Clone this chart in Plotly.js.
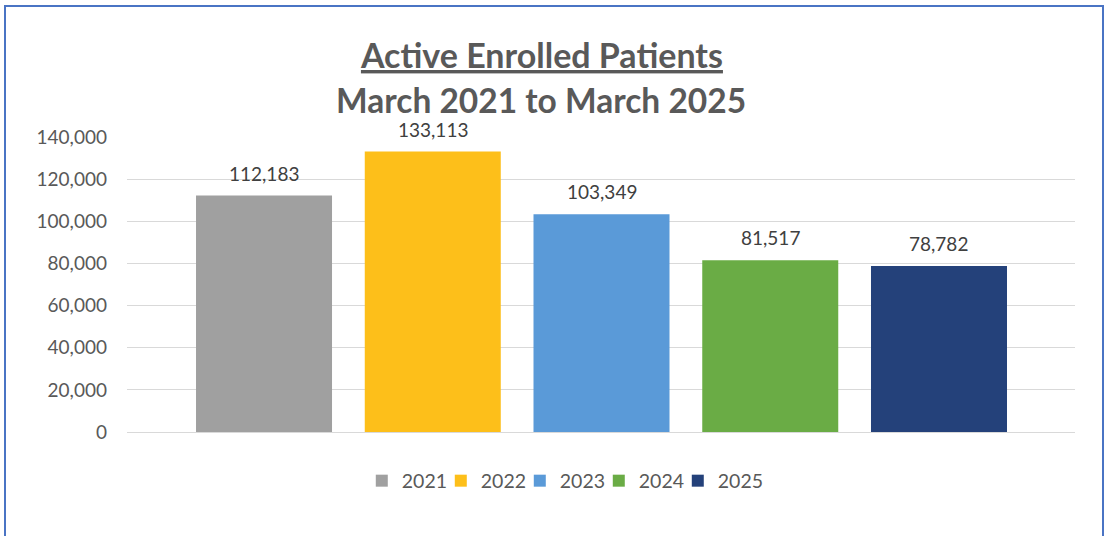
<!DOCTYPE html>
<html>
<head>
<meta charset="utf-8">
<script src="https://cdn.plot.ly/plotly-3.0.1.min.js"></script>
<style>
  html, body { margin: 0; padding: 0; background: #ffffff; }
  #wrap { position: relative; width: 1106px; height: 536px; overflow: hidden; }
  #chart { width: 1106px; height: 536px; }
  #frame { position: absolute; left: 4px; top: 5px; width: 1096px; height: 560px;
           border: 2px solid #4a74c4; pointer-events: none; }
</style>
</head>
<body>
<div id="wrap">
  <div id="chart"></div>
  <div id="frame"></div>
</div>
<script>
// ---- data ----
const years = ["2021", "2022", "2023", "2024", "2025"];
const patients = [112183, 133113, 103349, 81517, 78782];
const barColors = ["#a0a0a0", "#fdbf1a", "#5a9ad8", "#6aac45", "#24417a"];
const yTickVals = [0, 20000, 40000, 60000, 80000, 100000, 120000, 140000];
const titleLine1 = "Active Enrolled Patients";
const titleLine2 = "March 2021 to March 2025";

const FONT = "Lato, 'Noto Sans', sans-serif";

const traces = years.map((yr, i) => ({
  type: "bar",
  name: yr,
  x: [yr],
  y: [patients[i]],
  marker: { color: barColors[i] },
  hoverinfo: "x+y"
}));

const labelAnnotations = years.map((yr, i) => ({
  x: i, y: patients[i], xref: "x", yref: "y",
  text: patients[i].toLocaleString("en-US"),
  showarrow: false, yanchor: "bottom", yshift: 9,
  font: { family: FONT, size: 19, color: "#404040" }
}));

const layout = {
  width: 1106, height: 536,
  paper_bgcolor: "#ffffff", plot_bgcolor: "#ffffff",
  margin: { l: 127, r: 31, t: 137, b: 104 },
  barmode: "overlay",
  bargap: 0.194,
  font: { family: FONT, color: "#595959" },
  title: {
    text: "<b><span style='text-decoration:underline'>" + titleLine1 + "</span></b>",
    font: { family: FONT, size: 34, color: "#595959" },
    x: 0.49, xanchor: "center",
    y: 1 - 68/536, yref: "container", yanchor: "bottom"
  },
  annotations: [
    { xref: "paper", yref: "paper", x: 0.437, y: 1 + (137 - 122)/295, yanchor: "bottom", xanchor: "center",
      showarrow: false, text: "<b>" + titleLine2 + "</b>",
      font: { family: FONT, size: 33.5, color: "#595959" } }
  ].concat(labelAnnotations),
  xaxis: {
    type: "category",
    range: [-0.812, 4.806],
    showticklabels: false, showgrid: false, zeroline: false, showline: false,
    fixedrange: true
  },
  yaxis: {
    range: [0, 140000],
    tickvals: yTickVals,
    tickformat: ",d",
    showgrid: true, gridcolor: "#d9d9d9", gridwidth: 1,
    zeroline: true, zerolinecolor: "#d9d9d9", zerolinewidth: 1,
    showline: false, ticks: "", ticklabelstandoff: 19,
    tickfont: { family: FONT, size: 19, color: "#595959" },
    fixedrange: true
  },
  legend: {
    orientation: "h", x: 0.456, xanchor: "center", y: -0.1, yanchor: "top",
    font: { family: FONT, size: 19.5, color: "#595959" },
    itemwidth: 30, traceorder: "normal",
    entrywidth: 34, entrywidthmode: "pixels"
  },
  showlegend: true
};

Plotly.newPlot("chart", traces, layout, { displayModeBar: false, staticPlot: true }).then(gd => {
  // let the last legend label run past its fixed entry width instead of being clipped
  gd.querySelectorAll(".legend [clip-path]").forEach(el => el.removeAttribute("clip-path"));
});
</script>
</body>
</html>
